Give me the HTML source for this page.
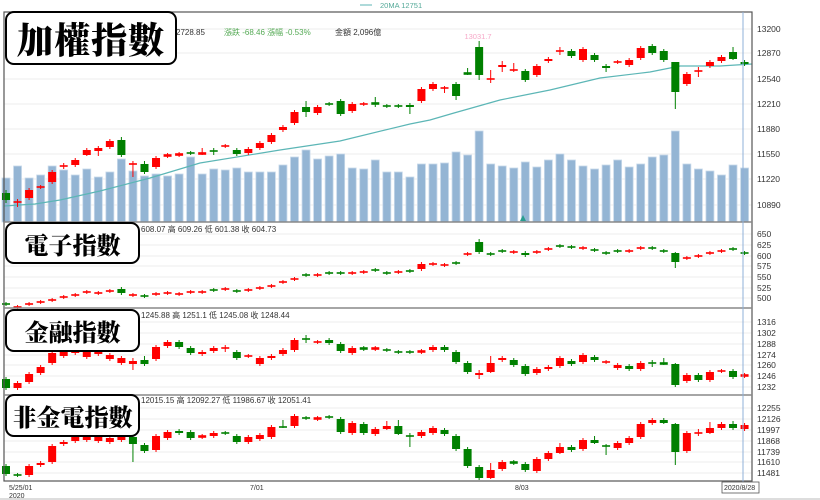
<!DOCTYPE html>
<html><head><meta charset="utf-8"><style>
html,body{margin:0;padding:0;background:#fff;width:820px;height:500px;overflow:hidden}
svg{display:block;font-family:"Liberation Sans","Noto Sans CJK TC",sans-serif}
.box{position:absolute;border:2px solid #000;border-radius:9px;background:#fff;font-family:"Noto Serif CJK SC","Noto Sans CJK TC",serif;font-weight:900;color:#000;display:flex;align-items:center;justify-content:center;box-sizing:border-box}
</style></head><body>
<div style="position:relative;width:820px;height:500px">
<svg id="s" width="820" height="500" xmlns="http://www.w3.org/2000/svg"></svg>
<div class="box" style="left:5px;top:11px;width:172px;height:54px;font-size:36px;letter-spacing:1px">加權指數</div>
<div class="box" style="left:5px;top:222px;width:135px;height:42px;font-size:24px">電子指數</div>
<div class="box" style="left:5px;top:309px;width:135px;height:43px;font-size:24px">金融指數</div>
<div class="box" style="left:5px;top:394px;width:135px;height:43px;font-size:24px">非金電指數</div>
</div>
<script>
var s=document.getElementById('s'),h='';
function X(i){return 6+i*11.54}
// grid + frame
var grid=[29,53,79,104,129,154,179,205,234,245,256,266,277,288,298,322,333,344,355,365,376,387,408,419,430,441,452,462,473];
grid.forEach(function(y){h+='<line x1="4" x2="752" y1="'+y+'" y2="'+y+'" stroke="#eeeeee"/>';});
// volume
var vol=[178,166,178,175,166,170,175,169,177,172,159,171,176,174,176,174,157,174,169,170,168,172,172,172,165,157,150,159,156,154,168,169,160,172,172,177,164,164,163,152,155,131,164,166,168,162,167,160,154,160,166,169,165,160,167,164,157,155,131,164,169,171,175,165,168];
vol.forEach(function(t,i){h+='<rect x="'+(X(i)-4)+'" y="'+t+'" width="8" height="'+(222-t)+'" fill="#94b5d4" stroke="#c8d9ea" stroke-width="0.8"/>';});
// MA
h+='<polyline fill="none" stroke="#5cb6b6" stroke-width="1.2" points="4,206 35,204 60,200 100,191 150,178 200,163 280,150 340,141 410,124 430,120 454,113 500,100 550,90 600,78 650,72 680,66 720,66 752,64"/>';
function C(d,wd){d.forEach(function(e,i){if(!e)return;var c=e[0]=='r'?'#ff0000':'#008000',t=e[1],b=e.length>2?e[2]:e[1];var wt=e.length>3?e[3]:Math.min(t-2,t-2),wb=e.length>4?e[4]:b+2;if(b-t<1.5){t-=0.8;b+=0.8;}var x=X(i);h+='<line x1="'+x+'" x2="'+x+'" y1="'+wt+'" y2="'+wb+'" stroke="'+c+'" stroke-width="1"/>';h+='<rect x="'+(x-4)+'" y="'+t+'" width="8" height="'+(b-t)+'" fill="'+c+'"/>';});}
C([['g',193,200,190,203],['r',202,202,199,207],['r',190,198],['r',187,187],['r',172,182],['r',166,166,163,169],['r',160,165],['r',150,155,148,156],['r',148,151,146,156],['r',141,147],['g',140,155,137,157],['r',164,164,161,177],['g',164,172,161,174],['r',158,167],['r',155,156],['r',154,155],['g',153,153],['r',153,154,148,155],['g',151,151,148,155],['r',146,146],['g',150,154],['r',149,153],['r',143,148],['r',135,142],['r',127,130],['r',112,123],['g',107,112,101,117],['r',107,113],['g',104,104],['g',101,114],['r',104,111],['r',104,104],['g',103,104,97,107],['g',106,106],['g',106,106],['g',105,107,103,114],['r',89,101],['r',84,89],['r',88,88,86,93],['g',84,96,82,100],['g',73,74,68,75],['g',47,75,41,80],['r',79,79,70,83],['r',65,67,61,72],['r',70,70,63,72],['g',71,80],['r',66,75],['r',59,61],['r',51,51,47,55],['g',51,56],['r',49,60],['g',55,60],['g',66,68,64,72],['r',62,62],['r',60,65],['r',48,58],['g',46,53],['g',51,60],['g',62,92,62,109],['r',74,84],['r',71,71,67,77],['r',62,66],['r',57,61],['g',52,59,47,60],['g',62,64]]);
C([['g',304],['r',307],['r',304],['r',302],['r',300],['r',297],['r',295],['r',292],['r',293],['r',291],['g',289,293],['r',295],['g',296],['r',294],['r',293],['r',294],['r',292],['r',292],['g',290],['r',289],['g',291],['r',290],['r',288],['r',286],['r',282],['r',279],['g',275],['r',275],['g',273],['g',273],['r',273],['r',272],['g',270],['g',273],['r',272],['g',271],['r',264,269],['r',264],['r',265],['g',263],['r',254],['g',242,252,239,254],['g',254],['g',251],['r',252],['g',253,255],['r',252],['r',249],['g',246],['g',247],['r',248],['g',250],['g',253],['g',251],['r',251],['r',248],['g',248],['g',251],['g',253,262,252,268],['r',258],['r',256],['r',253],['r',251],['g',249],['g',253]]);
C([['g',379,388],['r',383,388],['r',374,382],['r',367,373],['r',353,363],['r',350,356],['r',348,353],['r',352,357],['r',350,354],['r',355,359],['r',358,363],['r',361,364,358,370],['g',360,364,356,366],['r',347,359],['r',342,346],['g',342,347],['g',348,353],['r',352,354],['r',348,351],['r',348,348,345,352],['g',352,358],['r',356,356],['r',358,364],['r',356,358],['r',350,354],['r',340,350],['g',339,339,335,343],['r',342],['g',340,343],['g',344,351],['r',348,353],['g',348,349],['r',348,349],['g',350],['g',352],['g',352],['r',351,352],['r',347,350],['g',347,350],['g',352,362],['g',363,372],['r',373,375,370,379],['r',363,372,356,373],['r',358,360],['g',360,365],['g',366,374],['r',369,373],['r',367,369],['r',358,366],['g',361,364],['r',355,362],['g',357,360],['r',362],['r',365,368],['g',366,369],['r',363,369],['g',363,363,360,367],['g',363,364,358,365],['g',364,385,363,387],['r',375,381],['g',375,380],['r',372,380],['r',371,371],['g',371,377],['r',375,376]]);
C([['g',466,474],['g',475],['r',466,475],['r',463,465],['r',446,462],['r',442,444],['r',437,441],['r',436,440],['r',437,441],['r',438,442],['r',436,440],['g',437,444,435,462],['g',445,451],['r',436,450],['r',432,438],['g',431,433],['g',432,438],['r',436,437],['r',433,436],['g',433],['g',436,442],['r',437,442],['r',435,439],['r',427,437],['g',427,427,420,428],['r',416,426],['g',418],['r',418,419],['g',417],['g',419,432],['r',423,433],['g',424,433],['r',429,434],['r',426,429,421,430],['g',426,434,420,435],['g',436,436,433,447],['r',432,436],['r',428,433],['g',430,434],['g',436,449],['g',449,466],['g',467,478],['r',470,478,463,479],['r',462,469],['g',462,463],['g',464,470],['r',459,471],['r',453,459],['r',447,453,443,454],['g',447,450],['r',440,449],['g',440,443,436,444],['g',446,446,444,455],['r',443,448],['r',438,443],['r',424,437],['r',420,423],['g',420,423,418,424],['g',424,452,423,465],['r',433,451],['r',433,433,429,436],['r',428,433,422,434],['r',424,428],['g',424,428,421,430],['r',425,429]]);
// frame lines
h+='<rect x="4" y="12" width="748" height="469" fill="none" stroke="#555" stroke-width="1.2"/>';
[222,308,395].forEach(function(y){h+='<line x1="4" x2="752" y1="'+y+'" y2="'+y+'" stroke="#888" stroke-width="1.5"/>';});
h+='<line x1="743" x2="743" y1="12" y2="482" stroke="#8fb0d8" stroke-width="1"/>';
h+='<polygon points="520,221 526,221 523,215" fill="#2a9d8f"/>';
// axis labels
var L=[[13200,29],[12870,53],[12540,79],[12210,104],[11880,129],[11550,154],[11220,179],[10890,205],[650,234],[625,245],[600,256],[575,266],[550,277],[525,288],[500,298],[1316,322],[1302,333],[1288,344],[1274,355],[1260,365],[1246,376],[1232,387],[12255,408],[12126,419],[11997,430],[11868,441],[11739,452],[11610,462],[11481,473]];
L.forEach(function(l){h+='<text x="757" y="'+(l[1]+3)+'" font-size="8.5" fill="#333">'+l[0]+'</text>';});
h+='<line x1="360" x2="372" y1="5" y2="5" stroke="#5cb6b6"/><text x="380" y="8" font-size="7.5" fill="#5a9">20MA 12751</text>';
h+='<text x="478" y="39" font-size="7.5" fill="#f7a8c8" text-anchor="middle">13031.7</text>';
h+='<text x="176" y="35" font-size="8" fill="#333">2728.85</text><text x="224" y="35" font-size="8" fill="#5a5">漲跌 -68.46  漲幅  -0.53%</text><text x="335" y="35" font-size="8" fill="#333">金額 2,096億</text>';
h+='<text x="141" y="232" font-size="8" fill="#333">608.07 高 609.26 低 601.38 收 604.73</text>';
h+='<text x="141" y="318" font-size="8" fill="#333">1245.88 高 1251.1 低 1245.08 收 1248.44</text>';
h+='<text x="141" y="403" font-size="8" fill="#333">12015.15 高 12092.27 低 11986.67 收 12051.41</text>';
h+='<text x="9" y="490" font-size="7" fill="#333">5/25/01</text><text x="9" y="498" font-size="7" fill="#333">2020</text><text x="250" y="490" font-size="7" fill="#333">7/01</text><text x="515" y="490" font-size="7" fill="#333">8/03</text>';
h+='<rect x="722" y="482" width="37" height="11" fill="#fff" stroke="#555" stroke-width="0.8"/><text x="724" y="490" font-size="7" fill="#333">2020/8/28</text>';
h+='<line x1="0" x2="820" y1="499" y2="499" stroke="#ddd" stroke-width="2"/>';
s.innerHTML=h;
</script>
</body></html>
